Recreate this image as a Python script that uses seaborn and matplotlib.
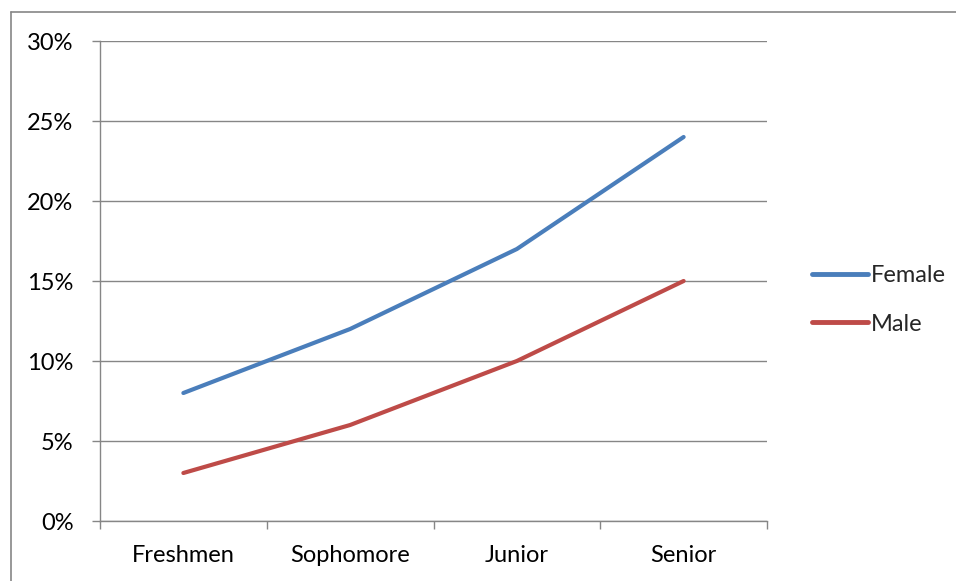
import pandas as pd
import matplotlib.pyplot as plt
from matplotlib.lines import Line2D
from matplotlib.ticker import FuncFormatter
import seaborn as sns

# datos
years = ['Freshmen', 'Sophomore', 'Junior', 'Senior']
female = [8, 12, 17, 24]
male = [3, 6, 10, 15]

df = pd.DataFrame({
    'year': years * 2,
    'pos': list(range(len(years))) * 2,
    'pct': female + male,
    'sex': ['Female'] * len(years) + ['Male'] * len(years),
})

sns.set_style('white')
plt.rcParams['font.family'] = ['Lato', 'DejaVu Sans']

W, H = 956, 581
fs = 17
fig = plt.figure(figsize=(W / 100, H / 100), dpi=100)
ax = fig.add_axes([100 / W, 1 - 521 / H, (767 - 100) / W, (521 - 41) / H])

grey = '#868686'
palette = {'Female': '#4A7EBB', 'Male': '#BE4B48'}

sns.lineplot(data=df, x='pos', y='pct', hue='sex', palette=palette,
             linewidth=3, sort=False, ax=ax, legend=False)

ax.set_xlim(-0.5, len(years) - 0.5)
ax.set_ylim(0, 30)
ax.set_yticks(range(0, 31, 5))
ax.yaxis.set_major_formatter(FuncFormatter(lambda v, p: f'{v:.0f}%'))
ax.grid(True, axis='y', color=grey, linewidth=1)
ax.set_axisbelow(True)

ax.set_xticks(range(len(years)), years)
ax.set_xticks([i - 0.5 for i in range(len(years) + 1)], minor=True)
ax.tick_params(axis='x', which='major', length=0, pad=17, labelsize=fs, colors='black')
ax.tick_params(axis='x', which='minor', length=6, width=1, color=grey, direction='out', bottom=True)
ax.tick_params(axis='y', length=6, width=1, color=grey, direction='out', left=True, pad=13,
               labelsize=fs, colors='black')

for s in ['top', 'right']:
    ax.spines[s].set_visible(False)
for s in ['left', 'bottom']:
    ax.spines[s].set_color(grey)
    ax.spines[s].set_linewidth(1)

ax.set_xlabel('')
ax.set_ylabel('')

handles = [Line2D([], [], color=palette[k], linewidth=3.5, solid_capstyle='round') for k in palette]
fig.legend(handles, list(palette), loc='center left', bbox_to_anchor=(791 / W, 1 - 300 / H),
           frameon=False, fontsize=fs, handlelength=2.35, handletextpad=0.15, labelspacing=1.15)

# marco exterior
fig.add_artist(Line2D([11 / W, 11 / W], [0, 1 - 12 / H], color=grey, linewidth=1.2, transform=fig.transFigure))
fig.add_artist(Line2D([11 / W, 1], [1 - 12 / H, 1 - 12 / H], color=grey, linewidth=1.2, transform=fig.transFigure))

fig.savefig('out.png', dpi=100)
